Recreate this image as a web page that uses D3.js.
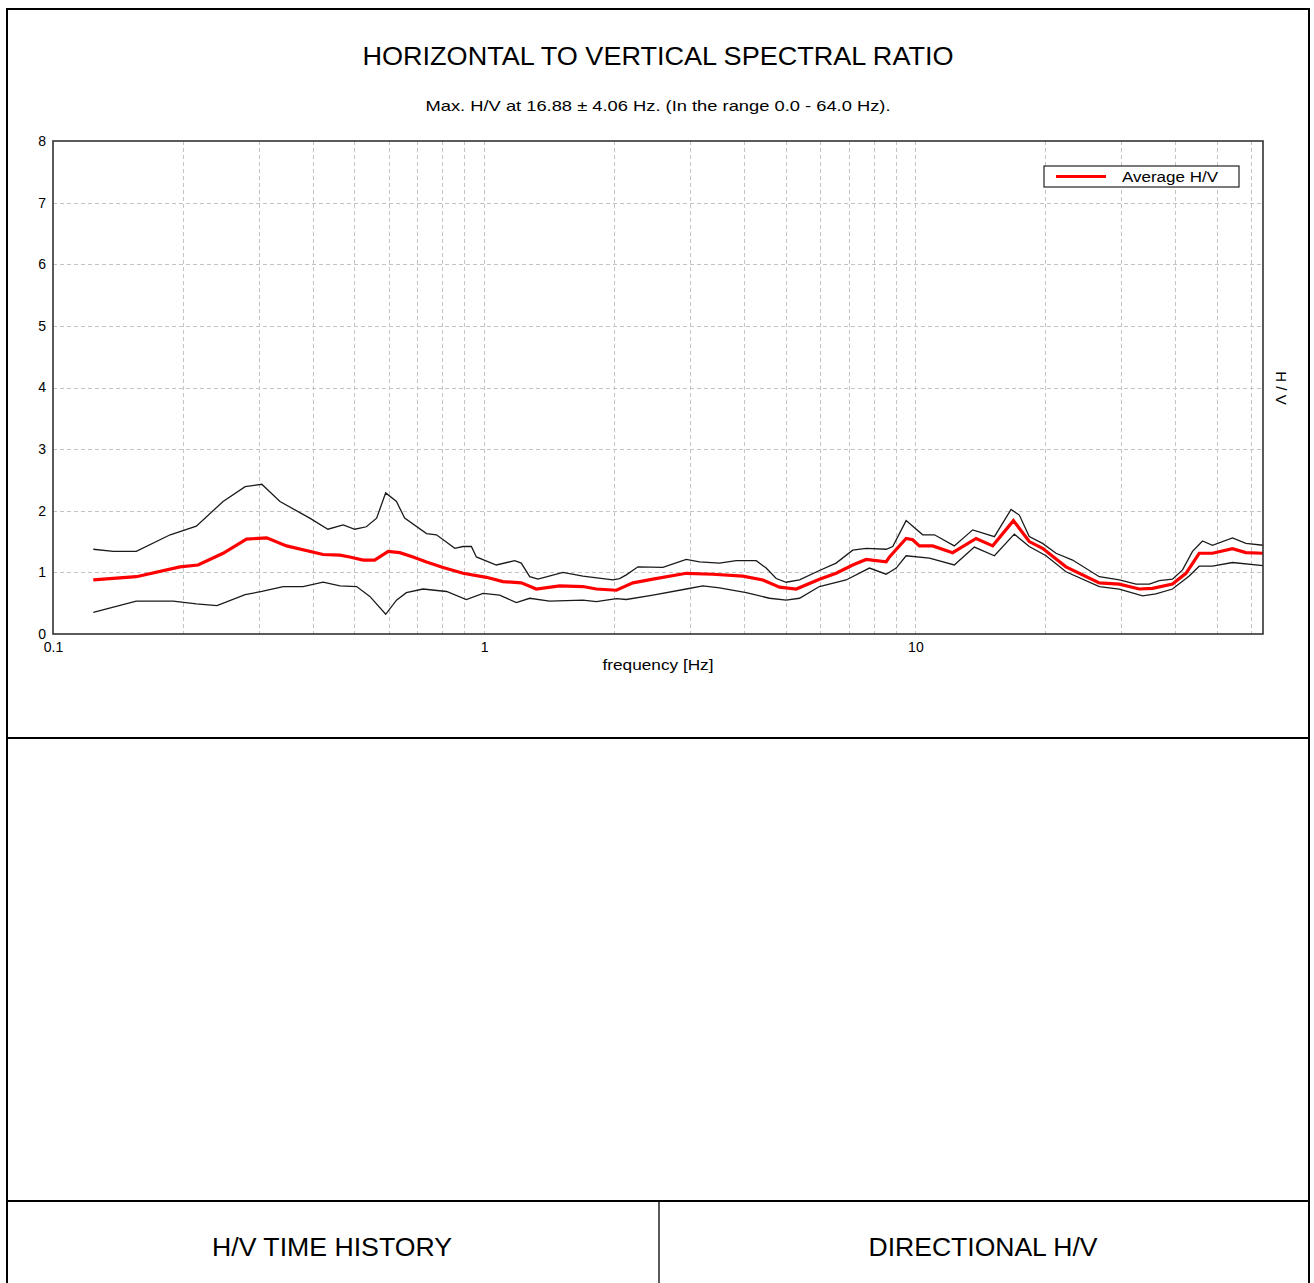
<!DOCTYPE html>
<html>
<head>
<meta charset="utf-8">
<script src="https://cdn.jsdelivr.net/npm/d3@7"></script>
<style>
  html, body { margin: 0; padding: 0; background: #fff; }
  svg { display: block; }
  text { font-family: "Liberation Sans", Arial, sans-serif; fill: #000; }
</style>
</head>
<body>
<svg id="chart" width="1314" height="1283"></svg>
<script>
// H/V spectral ratio: average curve and its ± standard deviation envelope
// Each entry: [frequency (Hz), H/V]
const upperHV = [
  [0.124, 1.375], [0.138, 1.34], [0.156, 1.34], [0.187, 1.61], [0.215, 1.75],
  [0.248, 2.15], [0.279, 2.39], [0.305, 2.43], [0.336, 2.15], [0.394, 1.88],
  [0.434, 1.70], [0.471, 1.77], [0.501, 1.70], [0.533, 1.74], [0.563, 1.88],
  [0.591, 2.29], [0.626, 2.15], [0.654, 1.88], [0.735, 1.63], [0.775, 1.61],
  [0.855, 1.39], [0.893, 1.42], [0.934, 1.42], [0.959, 1.25], [1.067, 1.12],
  [1.177, 1.19], [1.219, 1.15], [1.275, 0.93], [1.333, 0.89], [1.523, 1.00],
  [1.694, 0.94], [1.989, 0.877], [2.061, 0.90], [2.136, 0.96], [2.273, 1.09],
  [2.597, 1.08], [2.942, 1.21], [3.158, 1.17], [3.514, 1.15], [3.841, 1.19],
  [4.275, 1.19], [4.508, 1.07], [4.756, 0.90], [5.016, 0.84], [5.386, 0.877],
  [5.991, 1.03], [6.549, 1.15], [7.156, 1.36], [7.688, 1.39], [8.555, 1.375],
  [8.862, 1.42], [9.517, 1.84], [10.40, 1.61], [11.07, 1.61], [12.31, 1.43],
  [13.58, 1.69], [15.25, 1.58], [16.67, 2.02], [17.42, 1.93], [18.37, 1.58],
  [19.72, 1.47], [21.19, 1.31], [23.15, 1.20], [26.70, 0.93], [29.71, 0.877],
  [32.48, 0.81], [34.87, 0.81], [36.78, 0.865], [39.47, 0.89], [41.65, 1.04],
  [43.92, 1.34], [46.33, 1.51], [48.87, 1.44], [54.37, 1.56], [58.41, 1.47],
  [64.0, 1.44]
];

const averageHV = [
  [0.124, 0.877], [0.156, 0.93], [0.197, 1.09], [0.217, 1.12], [0.248, 1.31],
  [0.281, 1.54], [0.313, 1.56], [0.348, 1.43], [0.423, 1.29], [0.463, 1.28],
  [0.488, 1.25], [0.524, 1.20], [0.557, 1.20], [0.599, 1.34], [0.637, 1.32],
  [0.684, 1.25], [0.735, 1.17], [0.803, 1.08], [0.893, 0.985], [1.012, 0.92],
  [1.105, 0.85], [1.219, 0.83], [1.321, 0.73], [1.496, 0.78], [1.694, 0.77],
  [1.820, 0.73], [2.026, 0.71], [2.213, 0.83], [2.462, 0.89], [2.942, 0.985],
  [3.391, 0.97], [3.980, 0.94], [4.429, 0.877], [4.841, 0.76], [5.291, 0.73],
  [5.991, 0.89], [6.549, 0.985], [7.156, 1.12], [7.688, 1.21], [8.555, 1.17],
  [8.708, 1.25], [9.517, 1.55], [9.858, 1.53], [10.21, 1.43], [10.97, 1.43],
  [12.20, 1.32], [13.83, 1.55], [15.11, 1.43], [16.88, 1.84], [18.37, 1.50],
  [19.72, 1.39], [22.35, 1.09], [26.70, 0.83], [29.71, 0.81], [33.06, 0.73],
  [35.48, 0.74], [39.47, 0.81], [42.41, 0.985], [45.52, 1.31], [48.87, 1.31],
  [54.37, 1.385], [58.41, 1.32], [64.0, 1.31]
];

const lowerHV = [
  [0.124, 0.35], [0.156, 0.535], [0.190, 0.535], [0.215, 0.49], [0.240, 0.46],
  [0.279, 0.64], [0.305, 0.69], [0.342, 0.77], [0.380, 0.77], [0.423, 0.84],
  [0.463, 0.78], [0.506, 0.77], [0.543, 0.61], [0.591, 0.32], [0.626, 0.55],
  [0.660, 0.67], [0.721, 0.73], [0.818, 0.69], [0.909, 0.56], [0.994, 0.66],
  [1.086, 0.63], [1.187, 0.51], [1.275, 0.58], [1.418, 0.535], [1.694, 0.55],
  [1.820, 0.525], [2.026, 0.575], [2.136, 0.56], [2.462, 0.63], [2.942, 0.73],
  [3.215, 0.78], [3.514, 0.75], [4.053, 0.67], [4.589, 0.58], [5.016, 0.55],
  [5.386, 0.58], [5.991, 0.77], [6.908, 0.877], [7.824, 1.07], [8.555, 0.97],
  [9.025, 1.07], [9.517, 1.27], [10.78, 1.23], [12.31, 1.12], [13.70, 1.41],
  [15.25, 1.27], [16.96, 1.62], [18.37, 1.42], [20.09, 1.27], [22.35, 1.01],
  [26.70, 0.77], [29.71, 0.73], [33.65, 0.62], [36.13, 0.65], [39.47, 0.73],
  [43.16, 0.94], [45.52, 1.10], [48.87, 1.10], [54.37, 1.16], [64.0, 1.11]
];

const freqDomain = [0.1, 64];
const hvDomain = [0, 8];
const yTicks = [0, 1, 2, 3, 4, 5, 6, 7, 8];
const xTickLabels = [0.1, 1, 10];
const titleText = "HORIZONTAL TO VERTICAL SPECTRAL RATIO";
const subtitleText = "Max. H/V at 16.88 \u00b1 4.06 Hz. (In the range 0.0 - 64.0 Hz).";
const legendLabel = "Average H/V";
const panelTitles = ["H/V TIME HISTORY", "DIRECTIONAL H/V"];

const svg = d3.select("#chart");
const W = 1314, H = 1283;

// stretched text helper (report fonts run wider than Arial)
function label(parent, txt, xPos, yPos, size, width, anchor) {
  const t = parent.append("text").attr("x", xPos).attr("y", yPos)
    .attr("text-anchor", anchor || "middle").style("font-size", size + "px").text(txt);
  if (width) t.attr("textLength", width).attr("lengthAdjust", "spacingAndGlyphs");
  return t;
}

// page frame and panel dividers
const frame = svg.append("g").attr("fill", "none").attr("stroke", "#000").attr("stroke-width", 2);
frame.append("rect").attr("x", 7).attr("y", 9).attr("width", 1302).attr("height", H + 10);
frame.append("line").attr("x1", 7).attr("x2", 1309).attr("y1", 738).attr("y2", 738);
frame.append("line").attr("x1", 7).attr("x2", 1309).attr("y1", 1201).attr("y2", 1201);
frame.append("line").attr("x1", 659).attr("x2", 659).attr("y1", 1201).attr("y2", H)
  .attr("stroke-width", 1.3);

label(svg, titleText, 658, 65, 25, 591);
label(svg, subtitleText, 658, 111, 14.5, 465);

// plot area
const plotL = 53, plotR = 1263, plotT = 141, plotB = 634;
const x = d3.scaleLog().domain(freqDomain).range([plotL, plotR]);
const y = d3.scaleLinear().domain(hvDomain).range([plotB, plotT]);

// grid: minor log frequencies and integer H/V levels
const gridFreqs = [];
for (const dec of [0.1, 1, 10]) {
  for (let k = 1; k <= 9; k++) {
    const f = dec * k;
    if (f > freqDomain[0] && f < freqDomain[1]) gridFreqs.push(f);
  }
}
const grid = svg.append("g").attr("stroke", "#c4c4c4").attr("stroke-width", 1)
  .attr("stroke-dasharray", "4,3").attr("shape-rendering", "crispEdges");
grid.selectAll("line.v").data(gridFreqs).join("line").attr("class", "v")
  .attr("x1", d => Math.round(x(d)) + 0.5).attr("x2", d => Math.round(x(d)) + 0.5)
  .attr("y1", plotT).attr("y2", plotB);
grid.selectAll("line.h").data(yTicks.slice(1, -1)).join("line").attr("class", "h")
  .attr("x1", plotL).attr("x2", plotR)
  .attr("y1", d => Math.round(y(d)) + 0.5).attr("y2", d => Math.round(y(d)) + 0.5);

// curves
const line = d3.line().x(d => x(d[0])).y(d => y(d[1]));
svg.append("path").datum(upperHV).attr("d", line)
  .attr("fill", "none").attr("stroke", "#1a1a1a").attr("stroke-width", 1.3);
svg.append("path").datum(lowerHV).attr("d", line)
  .attr("fill", "none").attr("stroke", "#1a1a1a").attr("stroke-width", 1.3);
svg.append("path").datum(averageHV).attr("d", line)
  .attr("fill", "none").attr("stroke", "#ff0000").attr("stroke-width", 3.2);

// plot border
svg.append("rect").attr("x", plotL).attr("y", plotT).attr("width", plotR - plotL).attr("height", plotB - plotT)
  .attr("fill", "none").attr("stroke", "#333").attr("stroke-width", 1.6);

// axes
const yAxis = d3.axisLeft(y).tickValues(yTicks).tickSize(0).tickPadding(7).tickFormat(d3.format("d"));
const gy = svg.append("g").attr("transform", `translate(${plotL},0)`).call(yAxis);
gy.select(".domain").remove();
gy.selectAll("text").style("font-size", "14px").style("font-family", "Liberation Sans, Arial, sans-serif");

const xAxis = d3.axisBottom(x).tickValues(xTickLabels).tickSize(0).tickPadding(8)
  .tickFormat(d => d < 1 ? d.toFixed(1) : String(d));
const gx = svg.append("g").attr("transform", `translate(0,${plotB})`).call(xAxis);
gx.select(".domain").remove();
gx.selectAll("text").style("font-size", "14px").style("font-family", "Liberation Sans, Arial, sans-serif");

label(svg, "frequency [Hz]", 658, 670, 14, 111);

svg.append("text").attr("transform", `translate(1276,388) rotate(90)`)
  .attr("text-anchor", "middle").style("font-size", "15px").text("H / V");

// legend
const lg = svg.append("g").attr("transform", "translate(1044,166)");
lg.append("rect").attr("width", 195).attr("height", 21).attr("fill", "#fff")
  .attr("stroke", "#222").attr("stroke-width", 1.2);
lg.append("line").attr("x1", 12).attr("x2", 62).attr("y1", 10.5).attr("y2", 10.5)
  .attr("stroke", "#ff0000").attr("stroke-width", 3.2);
label(lg, legendLabel, 78, 15.5, 14, 96, "start");

// lower panel captions
label(svg, panelTitles[0], 332, 1256, 25, 240);
label(svg, panelTitles[1], 983, 1256, 25, 229);
</script>
</body>
</html>
